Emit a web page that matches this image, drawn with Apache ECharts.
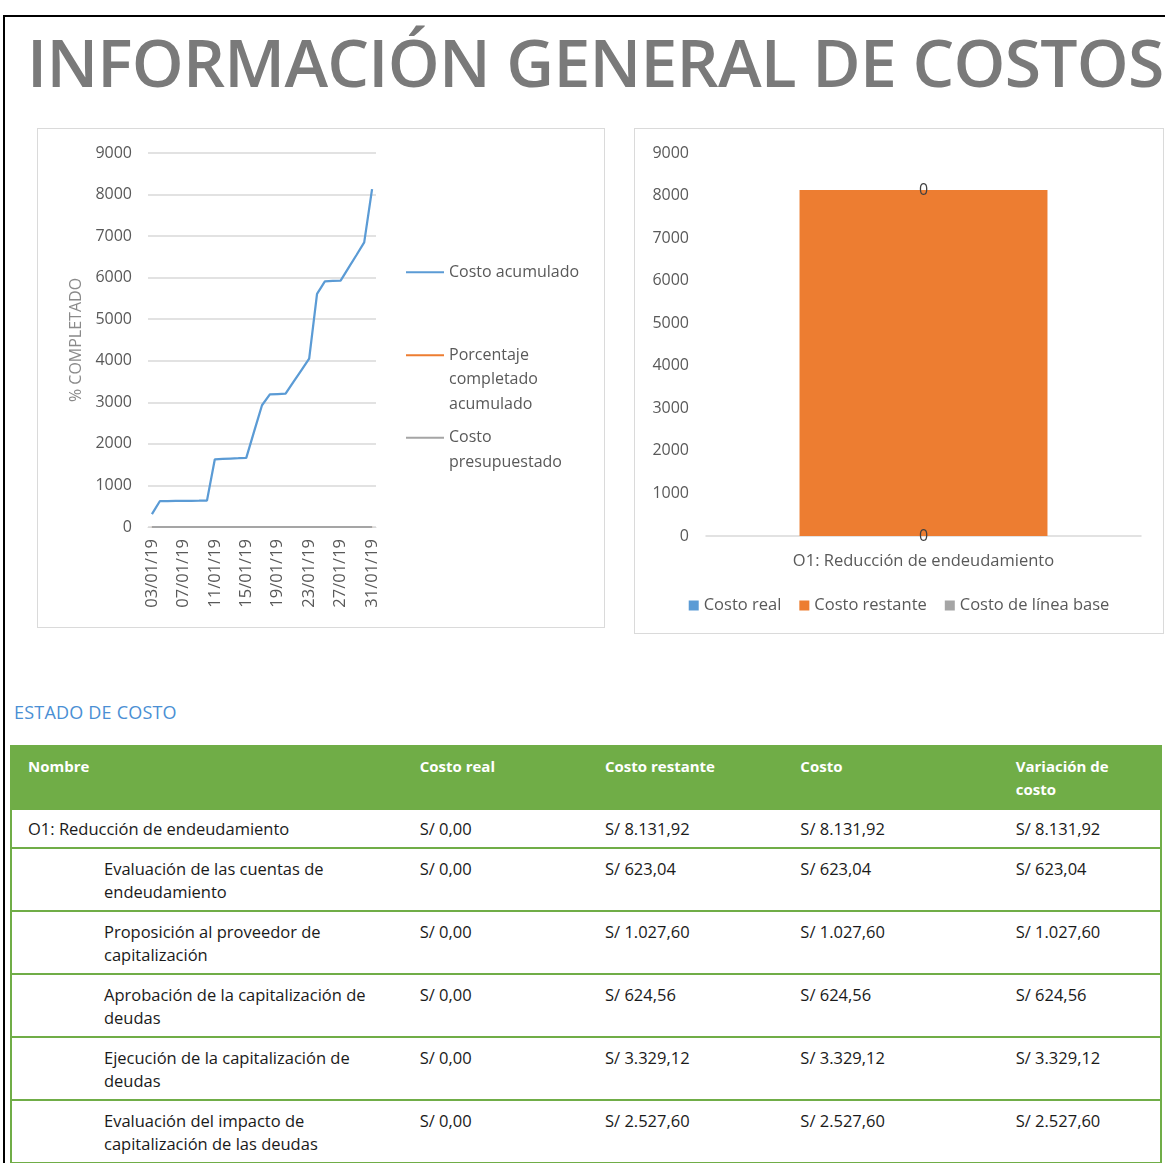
<!DOCTYPE html>
<html>
<head>
<meta charset="utf-8">
<script src="https://cdn.jsdelivr.net/npm/echarts@6/dist/echarts.min.js"></script>
<style>
  body { margin: 0; width: 1165px; height: 1163px; overflow: hidden; background: #fff; position: relative; font-family: 'Open Sans', sans-serif; }
  #frame { position: absolute; left: 3px; top: 15px; width: 1200px; height: 1146px; border: 2px solid #000; }
  #title { position: absolute; left: 27px; top: 28px; font-size: 66px; line-height: 66px; font-weight: 600; color: #7a7a7a; white-space: nowrap; letter-spacing: -0.75px; }
  .box { position: absolute; border: 1px solid #dadada; }
  #lineChart { left: 37px; top: 128px; width: 566px; height: 498px; }
  #barChart { left: 634px; top: 128px; width: 528px; height: 504px; }
  #sub { position: absolute; left: 14px; top: 701px; font-size: 18px; line-height: 22px; color: #4a8fd4; letter-spacing: 0.2px; }
  #tbl { position: absolute; left: 10px; top: 745px; width: 1152px; border-collapse: collapse; table-layout: fixed; border-left: 2px solid #70ad47; border-right: 2px solid #70ad47; border-bottom: 2px solid #70ad47; font-size: 16.5px; color: #1a1a1a; }
  #tbl th { background: #70ad47; color: #fff; font-weight: 700; font-size: 15px; text-align: left; vertical-align: top; height: 65px; box-sizing: border-box; padding: 10px 0 0 10px; line-height: 23px; }
  #tbl td { vertical-align: top; line-height: 23px; padding: 8px 0 0 10px; border-top: 2px solid #70ad47; box-sizing: border-box; }
  #tbl th:first-child, #tbl td:first-child { padding-left: 16px; }
  #tbl tr.top td { height: 38px; padding-top: 7px; border-top: none; }
  #tbl tr.sub td { height: 63px; }
  #tbl tr.sub td:first-child { padding-left: 92px; }
</style>
</head>
<body>
<div id="frame"></div>
<div id="title">INFORMACIÓN GENERAL DE COSTOS</div>
<div id="lineChart" class="box"></div>
<div id="barChart" class="box"></div>
<div id="sub">ESTADO DE COSTO</div>
<table id="tbl"></table>
<script>
// datos del gráfico de líneas
const fechas = ['03/01/19', '04/01/19', '05/01/19', '06/01/19', '07/01/19', '08/01/19', '09/01/19', '10/01/19',
  '11/01/19', '12/01/19', '13/01/19', '14/01/19', '15/01/19', '16/01/19', '17/01/19', '18/01/19', '19/01/19',
  '20/01/19', '21/01/19', '22/01/19', '23/01/19', '24/01/19', '25/01/19', '26/01/19', '27/01/19', '28/01/19',
  '29/01/19', '30/01/19', '31/01/19'];
const costoAcumulado = [310, 620, 624, 626, 628, 630, 632, 635, 1630, 1640, 1648, 1656, 1665, 2300, 2930,
  3190, 3200, 3208, 3490, 3770, 4050, 5610, 5910, 5920, 5930, 6235, 6540, 6850, 8132];
const porcentajeCompletado = [0, 0, 0, 0, 0, 0, 0, 0, 0, 0, 0, 0, 0, 0, 0, 0, 0, 0, 0, 0, 0, 0, 0, 0, 0, 0, 0, 0, 0];
const costoPresupuestado = [0, 0, 0, 0, 0, 0, 0, 0, 0, 0, 0, 0, 0, 0, 0, 0, 0, 0, 0, 0, 0, 0, 0, 0, 0, 0, 0, 0, 0];

// datos del gráfico de barras
const barCategorias = ['O1: Reducción de endeudamiento'];
const costoReal = [0];
const costoRestante = [8131.92];
const costoLineaBase = [0];

// tabla de estado de costo
const encabezados = ['Nombre', 'Costo real', 'Costo restante', 'Costo', 'Variación de<br>costo'];
const nombres = ['O1: Reducción de endeudamiento', 'Evaluación de las cuentas de<br>endeudamiento',
  'Proposición al proveedor de<br>capitalización', 'Aprobación de la capitalización de<br>deudas',
  'Ejecución de la capitalización de<br>deudas', 'Evaluación del impacto de<br>capitalización de las deudas'];
const colCostoReal = ['S/ 0,00', 'S/ 0,00', 'S/ 0,00', 'S/ 0,00', 'S/ 0,00', 'S/ 0,00'];
const colCostoRestante = ['S/ 8.131,92', 'S/ 623,04', 'S/ 1.027,60', 'S/ 624,56', 'S/ 3.329,12', 'S/ 2.527,60'];
const colCosto = ['S/ 8.131,92', 'S/ 623,04', 'S/ 1.027,60', 'S/ 624,56', 'S/ 3.329,12', 'S/ 2.527,60'];
const colVariacion = ['S/ 8.131,92', 'S/ 623,04', 'S/ 1.027,60', 'S/ 624,56', 'S/ 3.329,12', 'S/ 2.527,60'];

const gris = '#595959';
const fuente = 'Open Sans';

// gráfico de líneas
const lineChart = echarts.init(document.getElementById('lineChart'));
function legendaLinea(nombre, texto, top) {
  return {
    data: [nombre], orient: 'vertical', left: 368, top: top, padding: 0,
    icon: 'rect', itemWidth: 38, itemHeight: 2, itemGap: 0,
    textStyle: { color: gris, fontSize: 16, lineHeight: 24.5, fontFamily: fuente },
    formatter: () => texto
  };
}
lineChart.setOption({
  animation: false,
  textStyle: { fontFamily: fuente },
  grid: { left: 110, right: 228, top: 24, bottom: 100 },
  xAxis: {
    type: 'category', data: fechas, boundaryGap: true,
    axisTick: { show: false },
    axisLine: { lineStyle: { color: '#d9d9d9' } },
    axisLabel: { interval: 3, rotate: 90, color: gris, fontSize: 16.5, margin: 12 }
  },
  yAxis: {
    type: 'value', min: 0, max: 9000, interval: 1000,
    name: '% COMPLETADO', nameLocation: 'middle', nameGap: 64,
    nameTextStyle: { color: '#8a8a8a', fontSize: 16 },
    axisLabel: { color: gris, fontSize: 16, margin: 16, formatter: v => String(v) },
    splitLine: { lineStyle: { color: '#d9d9d9', width: 1.5 } }
  },
  legend: [
    legendaLinea('Costo acumulado', 'Costo acumulado', 131),
    legendaLinea('Porcentaje completado acumulado', '\n\nPorcentaje\ncompletado\nacumulado', 165),
    legendaLinea('Costo presupuestado', '\nCosto\npresupuestado', 272)
  ],
  series: [
    { name: 'Porcentaje completado acumulado', type: 'line', data: porcentajeCompletado, symbol: 'none',
      lineStyle: { color: '#ed7d31', width: 2 }, itemStyle: { color: '#ed7d31' }, z: 2 },
    { name: 'Costo presupuestado', type: 'line', data: costoPresupuestado, symbol: 'none',
      lineStyle: { color: '#a5a5a5', width: 2 }, itemStyle: { color: '#a5a5a5' }, z: 3 },
    { name: 'Costo acumulado', type: 'line', data: costoAcumulado, symbol: 'none',
      lineStyle: { color: '#5b9bd5', width: 2.25 }, itemStyle: { color: '#5b9bd5' }, z: 4 }
  ]
});

// gráfico de barras
const barChart = echarts.init(document.getElementById('barChart'));
const etiquetaCero = { show: true, position: 'inside', color: '#404040', fontSize: 16, fontFamily: fuente };
barChart.setOption({
  animation: false,
  textStyle: { fontFamily: fuente },
  grid: { left: 71, right: 22, top: 24, bottom: 97 },
  xAxis: {
    type: 'category', data: barCategorias,
    axisTick: { show: false },
    axisLine: { lineStyle: { color: '#d9d9d9', width: 1.5 } },
    axisLabel: { color: gris, fontSize: 16.5, margin: 17 }
  },
  yAxis: {
    type: 'value', min: 0, max: 9000, interval: 1000,
    splitLine: { show: false },
    axisLabel: { color: gris, fontSize: 16, margin: 17, formatter: v => String(v) }
  },
  legend: {
    bottom: 19, left: 'center', icon: 'rect', itemWidth: 10, itemHeight: 10, itemGap: 18, padding: 0,
    textStyle: { color: gris, fontSize: 16.5, fontFamily: fuente }
  },
  series: [
    { name: 'Costo real', type: 'bar', stack: 'costo', barWidth: '57%', data: costoReal,
      itemStyle: { color: '#5b9bd5' }, label: etiquetaCero },
    { name: 'Costo restante', type: 'bar', stack: 'costo', data: costoRestante,
      itemStyle: { color: '#ed7d31' } },
    { name: 'Costo de línea base', type: 'bar', stack: 'costo', data: costoLineaBase,
      itemStyle: { color: '#a5a5a5' }, label: etiquetaCero }
  ]
});

// tabla
const tbl = document.getElementById('tbl');
let html = '<colgroup><col style="width:398px"><col style="width:185px"><col style="width:195px"><col style="width:215px"><col style="width:155px"></colgroup>';
html += '<tr>' + encabezados.map(h => '<th>' + h + '</th>').join('') + '</tr>';
nombres.forEach((n, i) => {
  html += '<tr class="' + (i === 0 ? 'top' : 'sub') + '"><td>' + n + '</td><td>' + colCostoReal[i] + '</td><td>' +
    colCostoRestante[i] + '</td><td>' + colCosto[i] + '</td><td>' + colVariacion[i] + '</td></tr>';
});
tbl.innerHTML = html;
</script>
</body>
</html>
